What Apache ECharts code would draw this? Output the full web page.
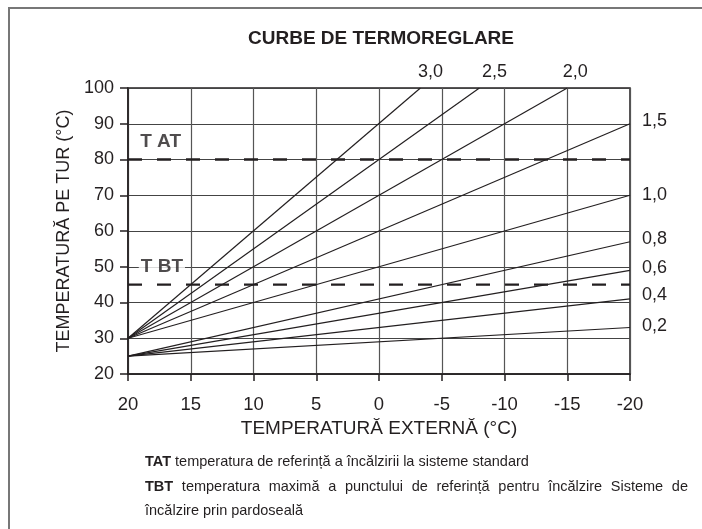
<!DOCTYPE html>
<html>
<head>
<meta charset="utf-8">
<script src="https://cdn.jsdelivr.net/npm/echarts@6/dist/echarts.min.js"></script>
<style>
  html, body { margin: 0; padding: 0; background: #fff; }
  #chart { width: 702px; height: 529px; }
</style>
</head>
<body>
<div id="chart"></div>
<script>
// Heating curves: flow temperature vs. outside temperature
const curveNames = ['3,0', '2,5', '2,0', '1,5', '1,0', '0,8', '0,6', '0,4', '0,2'];
const startExternal = [20, 20, 20, 20, 20, 20, 20, 20, 20];
const startFlow = [30, 30, 30, 30, 30, 25, 25, 25, 25];
const endExternal = [-3.3, -8, -15, -20, -20, -20, -20, -20, -20];
const endFlow = [100, 100, 100, 90, 70, 57, 49, 41, 33];

// Reference set-points (dashed)
const setpointNames = ['T AT', 'T BT'];
const setpointValues = [80, 45];

// Notes under the chart
const noteLine1 = ['TAT', 'temperatura de referință a încălzirii la sisteme standard'];
const noteLine2 = ['TBT', 'temperatura maximă a punctului de referință pentru încălzire Sisteme de'];
const noteLine3 = 'încălzire prin pardoseală';

const FAMILY = '"Liberation Sans", Arial, Helvetica, sans-serif';
const INK = '#231f20';
const NOTE_SIZE = 14.5;

// label placement per curve: steep ones above the end point, the rest to the right
const labelPlacement = [
  { position: 'top', offset: [10, 0], distance: 7 },
  { position: 'top', offset: [15, 0], distance: 7 },
  { position: 'top', offset: [8, 0], distance: 7 },
  { position: 'right', offset: [0, -3], distance: 12 },
  { position: 'right', offset: [0, 0], distance: 12 },
  { position: 'right', offset: [0, -3], distance: 12 },
  { position: 'right', offset: [0, -2], distance: 12 },
  { position: 'right', offset: [0, -4], distance: 12 },
  { position: 'right', offset: [0, -1], distance: 12 }
];

const curveSeries = curveNames.map((name, i) => ({
  type: 'line',
  name: name,
  symbol: 'circle',
  symbolSize: 0,
  showSymbol: true,
  silent: true,
  lineStyle: { color: INK, width: 1.2 },
  itemStyle: { color: INK },
  data: [
    { value: [startExternal[i], startFlow[i]], label: { show: false } },
    {
      value: [endExternal[i], endFlow[i]],
      label: {
        show: true,
        formatter: name,
        position: labelPlacement[i].position,
        offset: labelPlacement[i].offset,
        distance: labelPlacement[i].distance,
        fontFamily: FAMILY,
        fontSize: 18,
        color: INK
      }
    }
  ]
}));

const setpointSeries = setpointNames.map((name, i) => ({
  type: 'line',
  name: name,
  symbol: 'none',
  silent: true,
  z: 3,
  lineStyle: { color: INK, width: 2.4, type: [14, 15] },
  data: [[20, setpointValues[i]], [-20, setpointValues[i]]]
}));

const setpointLabels = {
  type: 'scatter',
  symbolSize: 0,
  silent: true,
  z: 4,
  data: [
    { value: [17.4, 85], name: setpointNames[0] },
    { value: [17.3, 50], name: setpointNames[1] }
  ],
  label: {
    show: true,
    position: 'inside',
    formatter: p => p.name,
    fontFamily: FAMILY,
    fontWeight: 'bold',
    fontSize: 19,
    color: INK,
    backgroundColor: '#fff',
    padding: [0, 2]
  }
};

// Lay out a line of words so it fills the given width (justified)
const measureCtx = document.createElement('canvas').getContext('2d');
function justifiedLine(boldWord, rest, x0, x1, top) {
  const words = [{ t: boldWord, bold: true }].concat(rest.split(' ').map(t => ({ t, bold: false })));
  const widths = words.map(w => {
    measureCtx.font = (w.bold ? 'bold ' : '') + NOTE_SIZE + 'px ' + FAMILY;
    return measureCtx.measureText(w.t).width;
  });
  const total = widths.reduce((a, b) => a + b, 0);
  const gap = (x1 - x0 - total) / (words.length - 1);
  let x = x0;
  return words.map((w, k) => {
    const el = {
      type: 'text', left: x, top: top, silent: true,
      style: {
        text: w.t, fontFamily: FAMILY, fontSize: NOTE_SIZE,
        fontWeight: w.bold ? 'bold' : 'normal', fill: INK
      }
    };
    x += widths[k] + gap;
    return el;
  });
}

const chart = echarts.init(document.getElementById('chart'), null, { renderer: 'canvas' });

const option = {
  backgroundColor: '#fff',
  animation: false,
  title: {
    text: 'CURBE DE TERMOREGLARE',
    left: 376,
    top: 24,
    textAlign: 'center',
    textStyle: { fontFamily: FAMILY, fontWeight: 'bold', fontSize: 19, color: INK }
  },
  grid: {
    left: 128, right: 72, top: 88, bottom: 155,
    show: true, borderColor: INK, borderWidth: 1.5
  },
  xAxis: {
    type: 'value',
    inverse: true,
    min: -20, max: 20, interval: 5,
    name: 'TEMPERATURĂ EXTERNĂ (°C)',
    nameLocation: 'middle',
    nameGap: 42,
    nameTextStyle: { fontFamily: FAMILY, fontSize: 19, color: INK },
    axisLine: { onZero: false, lineStyle: { color: INK, width: 1.5 } },
    axisTick: { show: true, length: 7, lineStyle: { color: INK, width: 1.5 } },
    axisLabel: { fontFamily: FAMILY, fontSize: 18.5, color: INK, margin: 21 },
    splitLine: { show: true, lineStyle: { color: '#555', width: 1.2 } }
  },
  yAxis: {
    type: 'value',
    min: 20, max: 100, interval: 10,
    name: 'TEMPERATURĂ PE TUR (°C)',
    nameLocation: 'middle',
    nameGap: 48,
    nameTextStyle: { fontFamily: FAMILY, fontSize: 18, color: INK },
    axisLine: { onZero: false, lineStyle: { color: INK, width: 1.5 } },
    axisTick: { show: true, length: 8, lineStyle: { color: INK, width: 1.5 } },
    axisLabel: { fontFamily: FAMILY, fontSize: 18, color: INK, margin: 14 },
    splitLine: { show: true, lineStyle: { color: '#444', width: 1.2 } }
  },
  graphic: [
    {
      type: 'polyline',
      silent: true,
      shape: { points: [[9, 529], [9, 8], [702, 8]] },
      style: { stroke: '#777', lineWidth: 2, fill: null }
    },
    {
      type: 'text', left: 145, top: 454, silent: true,
      style: {
        text: '{b|' + noteLine1[0] + '} ' + noteLine1[1],
        rich: { b: { fontWeight: 'bold', fontFamily: FAMILY, fontSize: NOTE_SIZE, fill: INK } },
        fontFamily: FAMILY, fontSize: NOTE_SIZE, fill: INK
      }
    },
    ...justifiedLine(noteLine2[0], noteLine2[1], 145, 688, 479),
    {
      type: 'text', left: 145, top: 503, silent: true,
      style: { text: noteLine3, fontFamily: FAMILY, fontSize: NOTE_SIZE, fill: INK }
    }
  ],
  series: [...curveSeries, ...setpointSeries, setpointLabels]
};

chart.setOption(option);
</script>
</body>
</html>
